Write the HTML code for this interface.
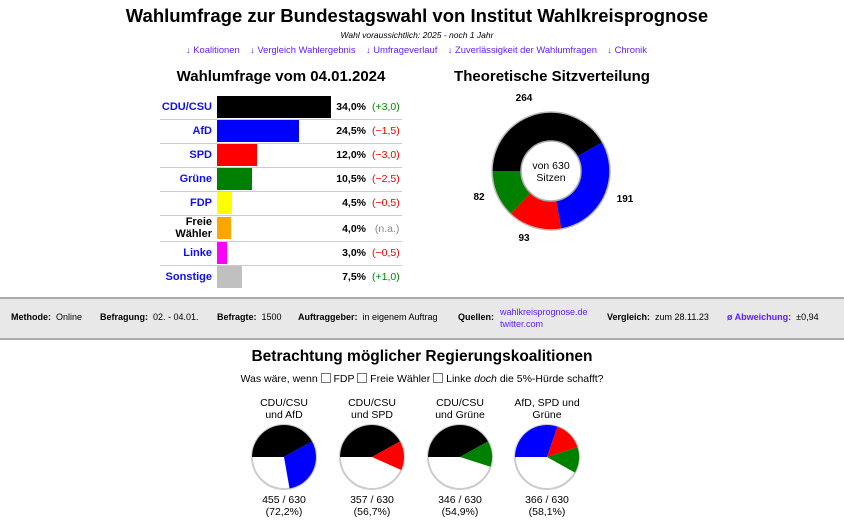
<!DOCTYPE html>
<html><head><meta charset="utf-8"><style>
body{margin:0;width:844px;height:526px;background:#fff;font-family:"Liberation Sans",sans-serif;position:relative;overflow:hidden;color:#000}
.a{position:absolute;white-space:nowrap}
.c{text-align:center}
.lnk{color:#6020ff}
.row{position:absolute;left:160px;width:242px;height:24px;border-bottom:1px solid #ccc}
.lab{position:absolute;right:190px;width:80px;text-align:right;font-size:11px;font-weight:bold;color:#1010ee;top:6px}
.bar{position:absolute;left:57px;top:1px;height:22px}
.pct{position:absolute;left:166px;width:40px;text-align:right;top:6px;font-size:10.5px;font-weight:bold}
.chg{position:absolute;left:212px;width:30px;text-align:left;top:6px;font-size:10.5px}
.m{font-size:9px;top:312px}
.m b{font-weight:bold}
</style></head><body>
<div class="a c" style="left:0;width:834px;top:5px;font-size:18.5px;font-weight:bold">Wahlumfrage zur Bundestagswahl von Institut Wahlkreisprognose</div>
<div class="a c" style="left:0;width:834px;top:30px;font-size:8.5px;font-style:italic">Wahl voraussichtlich: 2025 - noch 1 Jahr</div>
<div class="a lnk" style="left:186px;top:44px;font-size:9.4px">↓ Koalitionen &nbsp;&nbsp; ↓ Vergleich Wahlergebnis &nbsp;&nbsp; ↓ Umfrageverlauf &nbsp;&nbsp; ↓ Zuverlässigkeit der Wahlumfragen &nbsp;&nbsp; ↓ Chronik</div>
<div class="a c" style="left:150px;width:262px;top:68px;font-size:15px;font-weight:bold">Wahlumfrage vom 04.01.2024</div>
<div class="a c" style="left:430px;width:244px;top:68px;font-size:15px;font-weight:bold">Theoretische Sitzverteilung</div>

<div class="row" style="top:95px"><div class="lab">CDU/CSU</div><div class="bar" style="width:114px;background:#000"></div><div class="pct">34,0%</div><div class="chg" style="color:#080">(+3,0)</div></div>
<div class="row" style="top:119px"><div class="lab">AfD</div><div class="bar" style="width:82px;background:#00f"></div><div class="pct">24,5%</div><div class="chg" style="color:#e00">(−1,5)</div></div>
<div class="row" style="top:143px"><div class="lab">SPD</div><div class="bar" style="width:40px;background:#f00"></div><div class="pct">12,0%</div><div class="chg" style="color:#e00">(−3,0)</div></div>
<div class="row" style="top:167px"><div class="lab">Grüne</div><div class="bar" style="width:35px;background:#008000"></div><div class="pct">10,5%</div><div class="chg" style="color:#e00">(−2,5)</div></div>
<div class="row" style="top:191px"><div class="lab">FDP</div><div class="bar" style="width:15px;background:#ff0"></div><div class="pct">4,5%</div><div class="chg" style="color:#e00">(−0,5)</div></div>
<div class="row" style="top:215px;height:26px"><div class="lab" style="color:#000;top:1px;line-height:12px">Freie<br>Wähler</div><div class="bar" style="width:14px;height:22px;background:#ffa500;top:2px"></div><div class="pct" style="top:8px">4,0%</div><div class="chg" style="color:#888;top:8px">&nbsp;(n.a.)</div></div>
<div class="row" style="top:241px"><div class="lab">Linke</div><div class="bar" style="width:10px;background:#f0f"></div><div class="pct">3,0%</div><div class="chg" style="color:#e00">(−0,5)</div></div>
<div class="row" style="top:265px;border-bottom:none"><div class="lab">Sonstige</div><div class="bar" style="width:25px;background:#c0c0c0"></div><div class="pct">7,5%</div><div class="chg" style="color:#080">(+1,0)</div></div>

<svg class="a" style="left:0;top:0" width="844" height="526">
<path d="M492,171 A59,59 0 0 1 602.53,142.27 L577.20,156.39 A30,30 0 0 0 521,171 Z" fill="#000"/>
<path d="M602.53,142.27 A59,59 0 0 1 561.24,229.10 L556.21,200.54 A30,30 0 0 0 577.20,156.39 Z" fill="#00f"/>
<path d="M561.24,229.10 A59,59 0 0 1 510.67,214.06 L530.49,192.90 A30,30 0 0 0 556.21,200.54 Z" fill="#f00"/>
<path d="M510.67,214.06 A59,59 0 0 1 492,171 L521,171 A30,30 0 0 0 530.49,192.90 Z" fill="#008000"/>
<circle cx="551" cy="171" r="59" fill="none" stroke="#bbb" stroke-width="1.5"/>
<circle cx="551" cy="171" r="30" fill="rgba(255,255,255,0.93)" stroke="#aaa" stroke-width="1.5"/>
<text x="551" y="169" font-size="10.5" text-anchor="middle" font-family="Liberation Sans">von 630</text>
<text x="551" y="181" font-size="10.5" text-anchor="middle" font-family="Liberation Sans">Sitzen</text>
<g font-size="10" font-weight="bold" text-anchor="middle" font-family="Liberation Sans">
<text x="524" y="101">264</text><text x="625" y="202">191</text><text x="524" y="241">93</text><text x="479" y="200">82</text></g>

<g stroke="#ccc" stroke-width="2"><circle cx="284" cy="457" r="32" fill="#fff"/><circle cx="372" cy="457" r="32" fill="#fff"/><circle cx="460" cy="457" r="32" fill="#fff"/><circle cx="547" cy="457" r="32" fill="#fff"/></g>
<path d="M284,457 L252,457 A32,32 0 0 1 311.95,441.42 Z" fill="#000"/>
<path d="M284,457 L311.95,441.42 A32,32 0 0 1 289.56,488.51 Z" fill="#00f"/>
<path d="M372,457 L340,457 A32,32 0 0 1 399.95,441.42 Z" fill="#000"/>
<path d="M372,457 L399.95,441.42 A32,32 0 0 1 401.24,470.01 Z" fill="#f00"/>
<path d="M460,457 L428,457 A32,32 0 0 1 487.95,441.42 Z" fill="#000"/>
<path d="M460,457 L487.95,441.42 A32,32 0 0 1 490.48,466.73 Z" fill="#008000"/>
<path d="M547,457 L515,457 A32,32 0 0 1 557.49,426.77 Z" fill="#00f"/>
<path d="M547,457 L557.49,426.77 A32,32 0 0 1 577.48,447.26 Z" fill="#f00"/>
<path d="M547,457 L577.48,447.26 A32,32 0 0 1 574.95,472.58 Z" fill="#008000"/>
</svg>

<div class="a" style="left:0;top:297px;width:844px;height:39px;background:#e8e8e8;border-top:2px solid #aaa;border-bottom:2px solid #aaa"></div>
<div class="a m" style="left:11px"><b>Methode:</b>&nbsp; Online</div>
<div class="a m" style="left:100px"><b>Befragung:</b>&nbsp; 02. - 04.01.</div>
<div class="a m" style="left:217px"><b>Befragte:</b>&nbsp; 1500</div>
<div class="a m" style="left:298px"><b>Auftraggeber:</b>&nbsp; in eigenem Auftrag</div>
<div class="a m" style="left:458px"><b>Quellen:</b></div>
<div class="a lnk" style="left:500px;top:306px;font-size:9px;line-height:12px">wahlkreisprognose.de<br>twitter.com</div>
<div class="a m" style="left:607px"><b>Vergleich:</b>&nbsp; zum 28.11.23</div>
<div class="a m" style="left:727px"><b class="lnk">ø Abweichung:</b>&nbsp; ±0,94</div>

<div class="a c" style="left:0;width:844px;top:348px;font-size:15.5px;font-weight:bold">Betrachtung möglicher Regierungskoalitionen</div>
<div class="a c" style="left:0;width:844px;top:373px;font-size:10.5px">Was wäre, wenn <span style="display:inline-block;width:8px;height:8px;border:1px solid #777;vertical-align:-1px"></span> FDP <span style="display:inline-block;width:8px;height:8px;border:1px solid #777;vertical-align:-1px"></span> Freie Wähler <span style="display:inline-block;width:8px;height:8px;border:1px solid #777;vertical-align:-1px"></span> Linke <i>doch</i> die 5%-Hürde schafft?</div>
<div class="a c" style="left:234px;width:100px;top:397px;font-size:10.5px;line-height:12px">CDU/CSU<br>und AfD</div>
<div class="a c" style="left:322px;width:100px;top:397px;font-size:10.5px;line-height:12px">CDU/CSU<br>und SPD</div>
<div class="a c" style="left:410px;width:100px;top:397px;font-size:10.5px;line-height:12px">CDU/CSU<br>und Grüne</div>
<div class="a c" style="left:497px;width:100px;top:397px;font-size:10.5px;line-height:12px">AfD, SPD und<br>Grüne</div>
<div class="a c" style="left:234px;width:100px;top:494px;font-size:10.5px;line-height:12px">455 / 630<br>(72,2%)</div>
<div class="a c" style="left:322px;width:100px;top:494px;font-size:10.5px;line-height:12px">357 / 630<br>(56,7%)</div>
<div class="a c" style="left:410px;width:100px;top:494px;font-size:10.5px;line-height:12px">346 / 630<br>(54,9%)</div>
<div class="a c" style="left:497px;width:100px;top:494px;font-size:10.5px;line-height:12px">366 / 630<br>(58,1%)</div>
</body></html>
